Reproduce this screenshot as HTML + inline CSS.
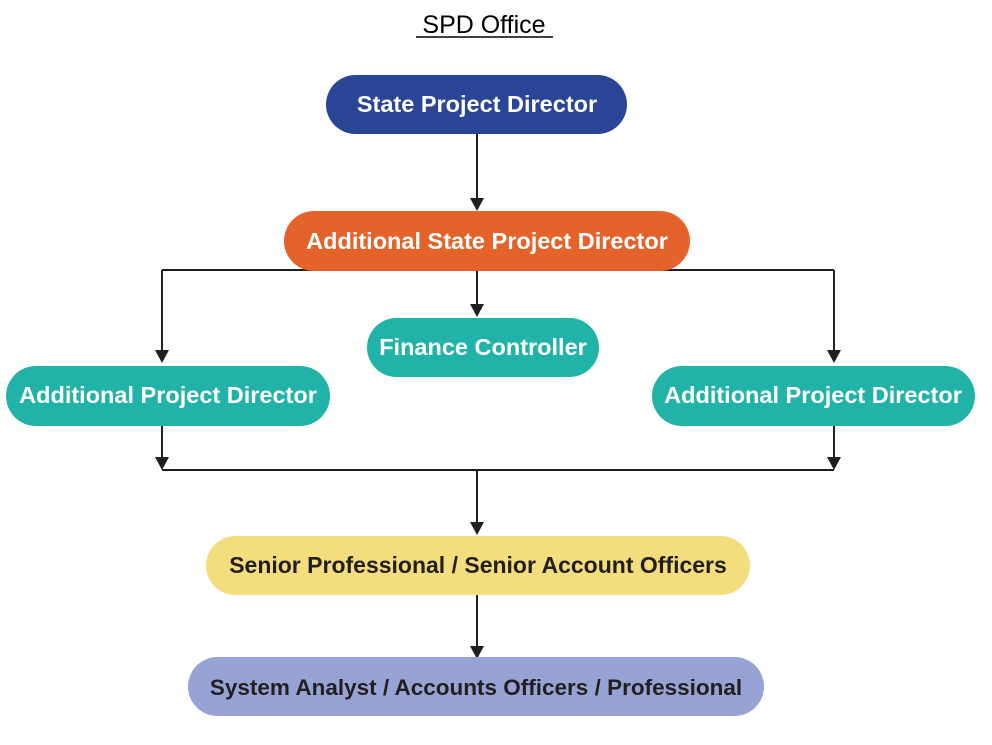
<!DOCTYPE html>
<html><head><style>
body{margin:0;background:#fff;width:992px;height:740px;overflow:hidden}
svg text{font-family:"Liberation Sans",sans-serif;font-weight:bold}
</style></head><body>
<svg width="992" height="740" viewBox="0 0 992 740">
<text x="484" y="33" text-anchor="middle" font-size="25" style="font-weight:normal" fill="#000">SPD Office</text>
<line x1="416" y1="37" x2="553" y2="37" stroke="#000" stroke-width="1.5"/>
<g stroke="#231f20" stroke-width="2" fill="none">
<path d="M477 134 V200"/>
<path d="M162 270 H834"/>
<path d="M162 270 V352"/>
<path d="M834 270 V352"/>
<path d="M477 270 V306"/>
<path d="M162 426 V458"/>
<path d="M834 426 V458"/>
<path d="M162 470 H834"/>
<path d="M477 470 V524"/>
<path d="M477 595 V646"/>
</g>
<g fill="#231f20">
<path d="M470 198 L484 198 L477 211 z"/>
<path d="M155 350 L169 350 L162 363 z"/>
<path d="M827 350 L841 350 L834 363 z"/>
<path d="M470 304 L484 304 L477 317 z"/>
<path d="M155 457 L169 457 L162 470 z"/>
<path d="M827 457 L841 457 L834 470 z"/>
<path d="M470 522 L484 522 L477 535 z"/>
<path d="M470 646 L484 646 L477 659 z"/>
</g>
<rect x="326" y="75" width="301" height="59" rx="29.5" fill="#2a4596"/>
<text x="477" y="112" text-anchor="middle" font-size="23.5" fill="#fff">State Project Director</text>
<rect x="284" y="211" width="406" height="60" rx="30" fill="#e4632a"/>
<text x="487" y="249" text-anchor="middle" font-size="23.5" fill="#fff">Additional State Project Director</text>
<rect x="367" y="318" width="232" height="59" rx="29.5" fill="#22b3a8"/>
<text x="483" y="355" text-anchor="middle" font-size="23.5" fill="#fff">Finance Controller</text>
<rect x="6" y="366" width="324" height="60" rx="30" fill="#22b3a8"/>
<text x="168" y="403" text-anchor="middle" font-size="23.5" fill="#fff">Additional Project Director</text>
<rect x="652" y="366" width="323" height="60" rx="30" fill="#22b3a8"/>
<text x="813" y="403" text-anchor="middle" font-size="23.5" fill="#fff">Additional Project Director</text>
<rect x="206" y="536" width="544" height="59" rx="29.5" fill="#f3dd7c"/>
<text x="478" y="573" text-anchor="middle" font-size="23" fill="#231f20">Senior Professional / Senior Account Officers</text>
<rect x="188" y="657" width="576" height="59" rx="29.5" fill="#96a3d4"/>
<text x="476" y="695" text-anchor="middle" font-size="22.5" fill="#231f20">System Analyst / Accounts Officers / Professional</text>
</svg>
</body></html>
